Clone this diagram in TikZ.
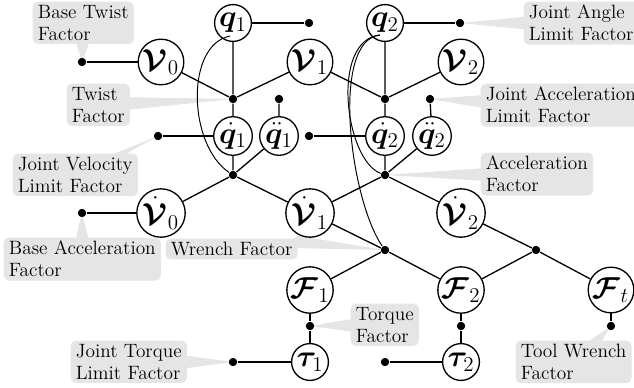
\documentclass[tikz,border=0pt]{standalone}
\usepackage{bm}
\usetikzlibrary{shapes.callouts}
\begin{document}
\begin{tikzpicture}[x=0.57pt,y=-0.57pt,line width=0.75pt,
  var/.style={circle,draw,inner sep=0pt,font=\fontsize{17}{19}\selectfont},
  qv/.style={var,minimum size=21pt},
  qdv/.style={var,minimum size=22pt},
  bv/.style={var,minimum size=26pt},
  bdv/.style={var,minimum size=27pt},
  fac/.style={circle,fill,inner sep=0pt,minimum size=4.6pt},
  note/.style={rectangle callout,fill=black!10,draw=none,rounded corners=3pt,
    align=left,anchor=north west,inner xsep=3pt,inner ysep=2pt,
    font=\fontsize{11}{12.5}\selectfont,
    callout pointer width=7pt},
  link/.style={line width=0.55pt}]
\useasboundingbox (0,0) rectangle (634,387);
% factor dots
\node[fac] (tw1) at (233,99) {};
\node[fac] (tw2) at (385,99) {};
\node[fac] (ac1) at (233,175) {};
\node[fac] (ac2) at (385,175) {};
\node[fac] (wr1) at (385,250) {};
\node[fac] (wr2) at (536,250) {};
\node[fac] (tq1) at (310,326) {};
\node[fac] (tq2) at (461,326) {};
\node[fac] (tqt) at (611,326) {};
\node[fac] (b0) at (82,62) {};
\node[fac] (lq1) at (309,23) {};
\node[fac] (lq2) at (460,23) {};
\node[fac] (la1) at (279,99) {};
\node[fac] (la2) at (430,99) {};
\node[fac] (lv1) at (158,136) {};
\node[fac] (lv2) at (309,136) {};
\node[fac] (ba) at (82,213) {};
\node[fac] (lt1) at (233,362) {};
\node[fac] (lt2) at (385,362) {};
% callouts
\node[note,callout absolute pointer=(b0)] (n1) at (32,1) {Base Twist\\Factor};
\node[note,callout absolute pointer=(tw1)] (n2) at (66,83) {Twist\\Factor};
\node[note,callout absolute pointer=(lq2)] (n3) at (523,1) {Joint Angle\\Limit Factor};
\node[note,callout absolute pointer=(la2)] (n4) at (480,83) {Joint Acceleration\\Limit Factor};
\node[note,callout absolute pointer=(lv1)] (n5) at (12,153) {Joint Velocity\\Limit Factor};
\node[note,callout absolute pointer=(ac2)] (n6) at (480,152) {Acceleration\\Factor};
\node[note,callout absolute pointer=(ba)] (n7) at (3,237) {Base Acceleration\\Factor};
\node[note,callout absolute pointer=(wr1)] (n8) at (165,238) {Wrench Factor};
\node[note,callout absolute pointer=(tq1)] (n9) at (350,303) {Torque\\Factor};
\node[note,callout absolute pointer=(lt1)] (n10) at (70,340) {Joint Torque\\Limit Factor};
\node[note,callout absolute pointer=(tqt)] (n11) at (515,340) {Tool Wrench\\Factor};
% redraw dots on top
\foreach \d in {tw1,tw2,ac1,ac2,wr1,wr2,tq1,tq2,tqt,b0,lq1,lq2,la1,la2,lv1,lv2,ba,lt1,lt2}
  \fill (\d) circle (2.3pt);
% variables
\node[qv] (q1) at (233,23) {$\bm{q}_1$};
\node[qv] (q2) at (385,23) {$\bm{q}_2$};
\node[bv] (V0) at (161,62) {$\bm{\mathcal{V}}_0$};
\node[bv] (V1) at (310,62) {$\bm{\mathcal{V}}_1$};
\node[bv] (V2) at (461,62) {$\bm{\mathcal{V}}_2$};
\node[qdv] (qd1) at (233,136) {$\dot{\bm{q}}_1$};
\node[qdv] (qdd1) at (279,136) {$\ddot{\bm{q}}_1$};
\node[qdv] (qd2) at (385,136) {$\dot{\bm{q}}_2$};
\node[qdv] (qdd2) at (432,136) {$\ddot{\bm{q}}_2$};
\node[bdv] (Vd0) at (161,213) {$\dot{\bm{\mathcal{V}}}_0$};
\node[bdv] (Vd1) at (310,213) {$\dot{\bm{\mathcal{V}}}_1$};
\node[bdv] (Vd2) at (461,213) {$\dot{\bm{\mathcal{V}}}_2$};
\node[bv] (F1) at (310,290) {$\bm{\mathcal{F}}_1$};
\node[bv] (F2) at (461,290) {$\bm{\mathcal{F}}_2$};
\node[bv] (Ft) at (611,290) {$\bm{\mathcal{F}}_t$};
\node[qv] (tau1) at (310,362) {$\bm{\tau}_1$};
\node[qv] (tau2) at (461,362) {$\bm{\tau}_2$};
% edges
\draw (b0) -- (V0);
\draw (q1) -- (lq1);
\draw (q2) -- (lq2);
\draw (V0) -- (tw1) (q1) -- (tw1) (V1) -- (tw1) (tw1) -- (qd1);
\draw (V1) -- (tw2) (q2) -- (tw2) (V2) -- (tw2) (tw2) -- (qd2);
\draw (la1) -- (qdd1) (la2) -- (qdd2);
\draw (lv1) -- (qd1) (lv2) -- (qd2);
\draw (qd1) -- (ac1) (qdd1) -- (ac1) (Vd0) -- (ac1) (Vd1) -- (ac1);
\draw (qd2) -- (ac2) (qdd2) -- (ac2) (Vd1) -- (ac2) (Vd2) -- (ac2);
\draw (ba) -- (Vd0);
\draw (Vd1) -- (wr1) (F1) -- (wr1) (F2) -- (wr1);
\draw (Vd2) -- (wr2) (F2) -- (wr2) (Ft) -- (wr2);
\draw (F1) -- (tq1) -- (tau1);
\draw (F2) -- (tq2) -- (tau2);
\draw (Ft) -- (tqt);
\draw (lt1) -- (tau1) (lt2) -- (tau2);
% curves
\draw[link] ([shift={(-3,13)}]q1.center) .. controls (185,45) and (188,145) .. (ac1);
\draw[link] ([shift={(-5,12)}]q2.center) .. controls (330,40) and (345,160) .. (ac2);
\draw[link] ([shift={(-5,12)}]q2.center) .. controls (330,40) and (350,200) .. (wr1);
\end{tikzpicture}
\end{document}
